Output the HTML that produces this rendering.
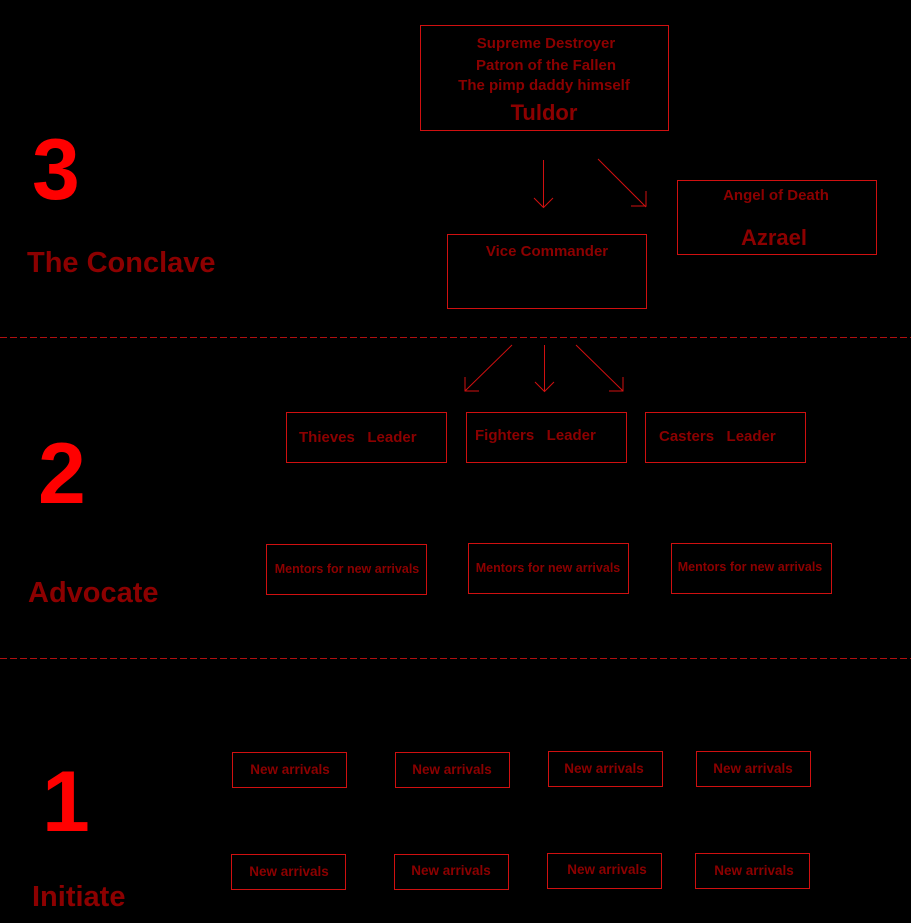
<!DOCTYPE html>
<html><head><meta charset="utf-8"><style>
html,body{margin:0;padding:0;background:#000;}
svg{display:block;}
text{font-family:"Liberation Sans",sans-serif;white-space:pre;}
</style></head><body>
<svg width="911" height="923" viewBox="0 0 911 923" xmlns="http://www.w3.org/2000/svg">
<rect width="911" height="923" fill="#000"/>
<g stroke="#b01010" stroke-width="1" stroke-dasharray="7,3">
<line x1="0" y1="337.5" x2="911" y2="337.5"/>
<line x1="0" y1="658.5" x2="911" y2="658.5"/>
</g>
<g fill="none" stroke="#d01010" stroke-width="1">
<rect x="420.5" y="25.5" width="248" height="105"/>
<rect x="447.5" y="234.5" width="199" height="74"/>
<rect x="677.5" y="180.5" width="199" height="74"/>
<rect x="286.5" y="412.5" width="160" height="50"/>
<rect x="466.5" y="412.5" width="160" height="50"/>
<rect x="645.5" y="412.5" width="160" height="50"/>
<rect x="266.5" y="544.5" width="160" height="50"/>
<rect x="468.5" y="543.5" width="160" height="50"/>
<rect x="671.5" y="543.5" width="160" height="50"/>
<rect x="232.5" y="752.5" width="114" height="35"/>
<rect x="395.5" y="752.5" width="114" height="35"/>
<rect x="548.5" y="751.5" width="114" height="35"/>
<rect x="696.5" y="751.5" width="114" height="35"/>
<rect x="231.5" y="854.5" width="114" height="35"/>
<rect x="394.5" y="854.5" width="114" height="35"/>
<rect x="547.5" y="853.5" width="114" height="35"/>
<rect x="695.5" y="853.5" width="114" height="35"/>
</g>
<g fill="none" stroke="#d01010" stroke-width="1">
<path d="M543.5 160V207M534 198l9.5 9.5 9.5-9.5"/>
<path d="M598 159L646 207M631 206h15v-15"/>
<path d="M512 345L465 391M465 377v14h14"/>
<path d="M544.5 345V391M535 382l9.5 9.5 9.5-9.5"/>
<path d="M576 345L623 391M609 391h14v-14"/>
</g>
<g fill="#ff0000" font-weight="bold" font-size="86">
<text x="32" y="199">3</text>
<text x="38" y="503">2</text>
<text x="42" y="831">1</text>
</g>
<g fill="#8c0000" font-weight="bold" font-size="29">
<text x="27" y="272">The Conclave</text>
<text x="28" y="602">Advocate</text>
<text x="32" y="906">Initiate</text>
</g>
<g fill="#8c0000" font-size="15" font-weight="bold" text-anchor="middle">
<text x="546" y="48">Supreme Destroyer</text>
<text x="546" y="70">Patron of the Fallen</text>
<text x="544" y="90">The pimp daddy himself</text>
<text x="547" y="256">Vice Commander</text>
<text x="776" y="200">Angel of Death</text>
</g>
<g fill="#8c0000" font-weight="bold" font-size="22" text-anchor="middle">
<text x="544" y="120">Tuldor</text>
<text x="774" y="245">Azrael</text>
</g>
<g fill="#8c0000" font-size="15" font-weight="bold">
<text x="299" y="442">Thieves   Leader</text>
<text x="475" y="440">Fighters   Leader</text>
<text x="659" y="441">Casters   Leader</text>
</g>
<g fill="#8c0000" font-weight="bold" font-size="12.5" text-anchor="middle">
<text x="347" y="573">Mentors for new arrivals</text>
<text x="548" y="572">Mentors for new arrivals</text>
<text x="750" y="571">Mentors for new arrivals</text>
</g>
<g fill="#8c0000" font-weight="bold" font-size="13.5" text-anchor="middle">
<text x="290" y="774">New arrivals</text>
<text x="452" y="774">New arrivals</text>
<text x="604" y="773">New arrivals</text>
<text x="753" y="773">New arrivals</text>
<text x="289" y="876">New arrivals</text>
<text x="451" y="875">New arrivals</text>
<text x="607" y="874">New arrivals</text>
<text x="754" y="875">New arrivals</text>
</g>
</svg>
</body></html>
